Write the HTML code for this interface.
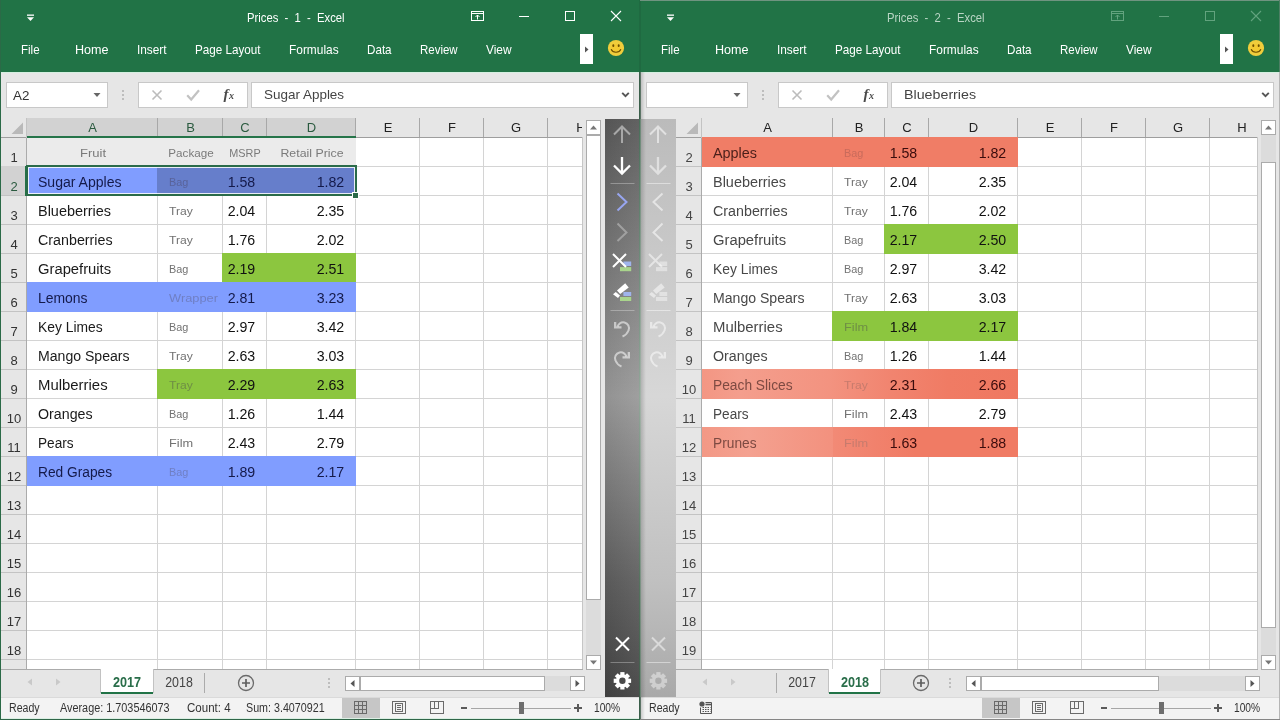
<!DOCTYPE html>
<html lang="en"><head><meta charset="utf-8"><title>Prices - Excel</title>
<style>
html,body{margin:0;padding:0;}
body{width:1280px;height:720px;overflow:hidden;background:#e6e6e6;font-family:"Liberation Sans",sans-serif;position:relative;}
.win{position:absolute;top:0;width:640px;height:720px;overflow:hidden;will-change:transform;}
.r{position:absolute;display:block;}
.t{position:absolute;white-space:pre;display:block;}
</style></head>
<body>
<div class="win" style="left:0px">
<div class="r" style="left:0px;top:0px;width:640px;height:72px;background:#217346;"></div>
<svg class="r" style="left:26px;top:13px;" width="10" height="10" viewBox="0 0 10 10"><rect x="1" y="1.5" width="7" height="1.3" fill="#fff"/><path d="M1 4.2h7L4.5 8z" fill="#fff"/></svg>
<span class="t" style="left:247px;transform-origin:0 0;top:11.21px;font-size:13px;line-height:13px;color:#fff;font-weight:normal;transform:scaleX(0.8660);">Prices  -  1  -  Excel</span>
<svg class="r" style="left:470px;top:10px;" width="16" height="12" viewBox="0 0 16 12"><rect x="1.5" y="1.5" width="12" height="9" fill="none" stroke="#fff" stroke-width="1"/><path d="M1.5 3.5h12" stroke="#fff" stroke-width="1"/><path d="M7.5 9.5v-4.5M5.5 7l2-2 2 2" fill="none" stroke="#fff" stroke-width="1"/></svg>
<div class="r" style="left:519px;top:16px;width:10px;height:1px;background:#fff;"></div>
<div class="r" style="left:565px;top:11px;width:10px;height:10px;background:transparent;box-sizing:border-box;border:1px solid #fff;"></div>
<svg class="r" style="left:610px;top:10px;" width="12" height="12" viewBox="0 0 12 12"><path d="M1 1l10 10M11 1L1 11" stroke="#fff" stroke-width="1.1" fill="none"/></svg>
<span class="t" style="left:21px;transform-origin:0 0;top:43.21px;font-size:13px;line-height:13px;color:#fff;font-weight:normal;transform:scaleX(0.8877);">File</span>
<span class="t" style="left:75px;transform-origin:0 0;top:43.21px;font-size:13px;line-height:13px;color:#fff;font-weight:normal;transform:scaleX(0.9686);">Home</span>
<span class="t" style="left:137px;transform-origin:0 0;top:43.21px;font-size:13px;line-height:13px;color:#fff;font-weight:normal;transform:scaleX(0.9103);">Insert</span>
<span class="t" style="left:195px;transform-origin:0 0;top:43.21px;font-size:13px;line-height:13px;color:#fff;font-weight:normal;transform:scaleX(0.8984);">Page Layout</span>
<span class="t" style="left:289px;transform-origin:0 0;top:43.21px;font-size:13px;line-height:13px;color:#fff;font-weight:normal;transform:scaleX(0.9153);">Formulas</span>
<span class="t" style="left:367px;transform-origin:0 0;top:43.21px;font-size:13px;line-height:13px;color:#fff;font-weight:normal;transform:scaleX(0.8956);">Data</span>
<span class="t" style="left:420px;transform-origin:0 0;top:43.21px;font-size:13px;line-height:13px;color:#fff;font-weight:normal;transform:scaleX(0.8821);">Review</span>
<span class="t" style="left:486px;transform-origin:0 0;top:43.21px;font-size:13px;line-height:13px;color:#fff;font-weight:normal;transform:scaleX(0.9158);">View</span>
<div class="r" style="left:580px;top:34px;width:13px;height:30px;background:#fff;"></div>
<svg class="r" style="left:580px;top:34px;" width="13" height="30" viewBox="0 0 13 30"><path d="M5 12.500l3.500 3-3.500 3z" fill="#555"/></svg>
<svg class="r" style="left:606px;top:38px;" width="20" height="20" viewBox="0 0 20 20"><circle cx="10" cy="10" r="8.100" fill="#f0cd3c"/><circle cx="10" cy="10.500" r="4.500" fill="#f5c62a" opacity=".6"/><ellipse cx="7.3" cy="7.700" rx="1" ry="1.400" fill="#6d5000"/><ellipse cx="12.7" cy="7.700" rx="1" ry="1.400" fill="#6d5000"/><path d="M5.3 11.500c1.300 3.600 8.100 3.600 9.400 0" fill="none" stroke="#6d5000" stroke-width="1.100" stroke-linecap="round"/></svg>
<div class="r" style="left:0px;top:72px;width:640px;height:46px;background:#e6e6e6;"></div>
<div class="r" style="left:0px;top:72px;width:640px;height:1px;background:#d5efe0;"></div>
<div class="r" style="left:6px;top:82px;width:102px;height:26px;background:#fff;box-sizing:border-box;border:1px solid #c8c8c8;"></div>
<svg class="r" style="left:92px;top:91px;" width="10" height="8" viewBox="0 0 10 8"><path d="M1.5 2h7L5 6z" fill="#666"/></svg>
<div class="r" style="left:122px;top:90px;width:2px;height:2px;background:#bdbdbd;"></div>
<div class="r" style="left:122px;top:94px;width:2px;height:2px;background:#bdbdbd;"></div>
<div class="r" style="left:122px;top:98px;width:2px;height:2px;background:#bdbdbd;"></div>
<div class="r" style="left:138px;top:82px;width:110px;height:26px;background:#fff;box-sizing:border-box;border:1px solid #c8c8c8;"></div>
<svg class="r" style="left:150px;top:88px;" width="14" height="14" viewBox="0 0 14 14"><path d="M2.5 2.5l9 9M11.5 2.5l-9 9" stroke="#bcbcbc" stroke-width="1.6" fill="none"/></svg>
<svg class="r" style="left:186px;top:88px;" width="14" height="14" viewBox="0 0 14 14"><path d="M1.2 7.2l4 4.3L13 2.2" stroke="#c2c2c2" stroke-width="2.2" fill="none"/></svg>
<span class="t" style="left:223.5px;transform-origin:0 0;top:86.55px;font-size:15px;line-height:15px;color:#4a4a4a;font-weight:bold;font-family:'Liberation Serif',serif;font-style:italic;">f</span>
<span class="t" style="left:229px;transform-origin:0 0;top:90.70px;font-size:10px;line-height:10px;color:#4a4a4a;font-weight:bold;font-family:'Liberation Serif',serif;font-style:italic;">x</span>
<div class="r" style="left:251px;top:82px;width:383px;height:26px;background:#fff;box-sizing:border-box;border:1px solid #c8c8c8;"></div>
<svg class="r" style="left:619px;top:90px;" width="12" height="10" viewBox="0 0 12 10"><path d="M3.2 2.800l3.300 3.300 3.300-3.300" stroke="#555" stroke-width="1.9" fill="none"/></svg>
<span class="t" style="left:13px;transform-origin:0 0;top:90.04px;font-size:12px;line-height:12px;color:#333;font-weight:normal;transform:scaleX(1.1166);">A2</span>
<span class="t" style="left:263.5px;transform-origin:0 0;top:89.46px;font-size:12.7px;line-height:12.7px;color:#444;font-weight:normal;transform:scaleX(1.0611);">Sugar Apples</span>
<div class="r" style="left:27px;top:138px;width:555px;height:531px;background:#fff;"></div>
<div class="r" style="left:1px;top:118px;width:582px;height:20px;background:#e6e6e6;"></div>
<div class="r" style="left:1px;top:137px;width:582px;height:1px;background:#9e9e9e;"></div>
<div class="r" style="left:27px;top:118px;width:329px;height:19px;background:#d2d2d2;"></div>
<svg class="r" style="left:1px;top:118px;" width="26" height="20" viewBox="0 0 26 20"><path d="M22 4.5v11.5h-11.5z" fill="#b9b9b9"/></svg>
<div class="r" style="left:157px;top:118px;width:1px;height:19px;background:#a8a8a8;"></div>
<div class="r" style="left:26px;top:118px;width:1px;height:20px;background:#c3c3c3;"></div>
<span class="t" style="left:92.5px;transform-origin:50% 0;top:121.21px;font-size:13px;line-height:13px;color:#2a5a3f;font-weight:normal;transform:translateX(-50%);">A</span>
<div class="r" style="left:222px;top:118px;width:1px;height:19px;background:#a8a8a8;"></div>
<div class="r" style="left:26px;top:118px;width:1px;height:20px;background:#c3c3c3;"></div>
<span class="t" style="left:190.5px;transform-origin:50% 0;top:121.21px;font-size:13px;line-height:13px;color:#2a5a3f;font-weight:normal;transform:translateX(-50%);">B</span>
<div class="r" style="left:266px;top:118px;width:1px;height:19px;background:#a8a8a8;"></div>
<div class="r" style="left:26px;top:118px;width:1px;height:20px;background:#c3c3c3;"></div>
<span class="t" style="left:245px;transform-origin:50% 0;top:121.21px;font-size:13px;line-height:13px;color:#2a5a3f;font-weight:normal;transform:translateX(-50%);">C</span>
<div class="r" style="left:355px;top:118px;width:1px;height:19px;background:#a8a8a8;"></div>
<div class="r" style="left:26px;top:118px;width:1px;height:20px;background:#c3c3c3;"></div>
<span class="t" style="left:311.5px;transform-origin:50% 0;top:121.21px;font-size:13px;line-height:13px;color:#2a5a3f;font-weight:normal;transform:translateX(-50%);">D</span>
<div class="r" style="left:419px;top:118px;width:1px;height:19px;background:#a8a8a8;"></div>
<div class="r" style="left:26px;top:118px;width:1px;height:20px;background:#c3c3c3;"></div>
<span class="t" style="left:388px;transform-origin:50% 0;top:121.21px;font-size:13px;line-height:13px;color:#222;font-weight:normal;transform:translateX(-50%);">E</span>
<div class="r" style="left:483px;top:118px;width:1px;height:19px;background:#a8a8a8;"></div>
<div class="r" style="left:26px;top:118px;width:1px;height:20px;background:#c3c3c3;"></div>
<span class="t" style="left:452px;transform-origin:50% 0;top:121.21px;font-size:13px;line-height:13px;color:#222;font-weight:normal;transform:translateX(-50%);">F</span>
<div class="r" style="left:547px;top:118px;width:1px;height:19px;background:#a8a8a8;"></div>
<div class="r" style="left:26px;top:118px;width:1px;height:20px;background:#c3c3c3;"></div>
<span class="t" style="left:516px;transform-origin:50% 0;top:121.21px;font-size:13px;line-height:13px;color:#222;font-weight:normal;transform:translateX(-50%);">G</span>
<div class="r" style="left:26px;top:118px;width:1px;height:20px;background:#c3c3c3;"></div>
<div class="r" style="left:548px;top:118px;width:34px;height:20px;overflow:hidden"><span class="t" style="left:33px;transform-origin:50% 0;top:3.21px;font-size:13px;line-height:13px;color:#222;font-weight:normal;transform:translateX(-50%);">H</span></div>
<div class="r" style="left:1px;top:138px;width:26px;height:531px;background:#e6e6e6;"></div>
<div class="r" style="left:26px;top:138px;width:1px;height:531px;background:#ababab;"></div>
<div class="r" style="left:27px;top:166px;width:555px;height:1px;background:#d4d4d4;"></div>
<div class="r" style="left:1px;top:166px;width:25px;height:1px;background:#c3c3c3;"></div>
<div class="r" style="left:27px;top:195px;width:555px;height:1px;background:#d4d4d4;"></div>
<div class="r" style="left:1px;top:195px;width:25px;height:1px;background:#c3c3c3;"></div>
<div class="r" style="left:27px;top:224px;width:555px;height:1px;background:#d4d4d4;"></div>
<div class="r" style="left:1px;top:224px;width:25px;height:1px;background:#c3c3c3;"></div>
<div class="r" style="left:27px;top:253px;width:555px;height:1px;background:#d4d4d4;"></div>
<div class="r" style="left:1px;top:253px;width:25px;height:1px;background:#c3c3c3;"></div>
<div class="r" style="left:27px;top:282px;width:555px;height:1px;background:#d4d4d4;"></div>
<div class="r" style="left:1px;top:282px;width:25px;height:1px;background:#c3c3c3;"></div>
<div class="r" style="left:27px;top:311px;width:555px;height:1px;background:#d4d4d4;"></div>
<div class="r" style="left:1px;top:311px;width:25px;height:1px;background:#c3c3c3;"></div>
<div class="r" style="left:27px;top:340px;width:555px;height:1px;background:#d4d4d4;"></div>
<div class="r" style="left:1px;top:340px;width:25px;height:1px;background:#c3c3c3;"></div>
<div class="r" style="left:27px;top:369px;width:555px;height:1px;background:#d4d4d4;"></div>
<div class="r" style="left:1px;top:369px;width:25px;height:1px;background:#c3c3c3;"></div>
<div class="r" style="left:27px;top:398px;width:555px;height:1px;background:#d4d4d4;"></div>
<div class="r" style="left:1px;top:398px;width:25px;height:1px;background:#c3c3c3;"></div>
<div class="r" style="left:27px;top:427px;width:555px;height:1px;background:#d4d4d4;"></div>
<div class="r" style="left:1px;top:427px;width:25px;height:1px;background:#c3c3c3;"></div>
<div class="r" style="left:27px;top:456px;width:555px;height:1px;background:#d4d4d4;"></div>
<div class="r" style="left:1px;top:456px;width:25px;height:1px;background:#c3c3c3;"></div>
<div class="r" style="left:27px;top:485px;width:555px;height:1px;background:#d4d4d4;"></div>
<div class="r" style="left:1px;top:485px;width:25px;height:1px;background:#c3c3c3;"></div>
<div class="r" style="left:27px;top:514px;width:555px;height:1px;background:#d4d4d4;"></div>
<div class="r" style="left:1px;top:514px;width:25px;height:1px;background:#c3c3c3;"></div>
<div class="r" style="left:27px;top:543px;width:555px;height:1px;background:#d4d4d4;"></div>
<div class="r" style="left:1px;top:543px;width:25px;height:1px;background:#c3c3c3;"></div>
<div class="r" style="left:27px;top:572px;width:555px;height:1px;background:#d4d4d4;"></div>
<div class="r" style="left:1px;top:572px;width:25px;height:1px;background:#c3c3c3;"></div>
<div class="r" style="left:27px;top:601px;width:555px;height:1px;background:#d4d4d4;"></div>
<div class="r" style="left:1px;top:601px;width:25px;height:1px;background:#c3c3c3;"></div>
<div class="r" style="left:27px;top:630px;width:555px;height:1px;background:#d4d4d4;"></div>
<div class="r" style="left:1px;top:630px;width:25px;height:1px;background:#c3c3c3;"></div>
<div class="r" style="left:27px;top:659px;width:555px;height:1px;background:#d4d4d4;"></div>
<div class="r" style="left:1px;top:659px;width:25px;height:1px;background:#c3c3c3;"></div>
<div class="r" style="left:157px;top:138px;width:1px;height:531px;background:#d4d4d4;"></div>
<div class="r" style="left:222px;top:138px;width:1px;height:531px;background:#d4d4d4;"></div>
<div class="r" style="left:266px;top:138px;width:1px;height:531px;background:#d4d4d4;"></div>
<div class="r" style="left:355px;top:138px;width:1px;height:531px;background:#d4d4d4;"></div>
<div class="r" style="left:419px;top:138px;width:1px;height:531px;background:#d4d4d4;"></div>
<div class="r" style="left:483px;top:138px;width:1px;height:531px;background:#d4d4d4;"></div>
<div class="r" style="left:547px;top:138px;width:1px;height:531px;background:#d4d4d4;"></div>
<div class="r" style="left:582px;top:137px;width:1px;height:532px;background:#c6c6c6;"></div>
<div class="r" style="left:1px;top:669px;width:582px;height:1px;background:#ababab;"></div>
<div class="r" style="left:27px;top:137px;width:329px;height:30px;background:#ebebeb;"></div>
<div class="r" style="left:27px;top:166px;width:131px;height:30px;background:#809dff;"></div>
<div class="r" style="left:157px;top:166px;width:199px;height:30px;background:#667ecb;"></div>
<div class="r" style="left:222px;top:253px;width:134px;height:30px;background:#8cc63f;"></div>
<div class="r" style="left:27px;top:282px;width:329px;height:30px;background:#809dff;"></div>
<div class="r" style="left:157px;top:369px;width:199px;height:30px;background:#8cc63f;"></div>
<div class="r" style="left:27px;top:456px;width:329px;height:30px;background:#809dff;"></div>
<div class="r" style="left:27px;top:136px;width:329px;height:2px;background:#257449;"></div>
<span class="t" style="left:14px;transform-origin:50% 0;top:151.21px;font-size:13px;line-height:13px;color:#333;font-weight:normal;transform:translateX(-50%);">1</span>
<div class="r" style="left:1px;top:166px;width:25px;height:29px;background:#d2d2d2;"></div>
<div class="r" style="left:25px;top:166px;width:2px;height:30px;background:#217346;"></div>
<span class="t" style="left:14px;transform-origin:50% 0;top:180.21px;font-size:13px;line-height:13px;color:#2a5a3f;font-weight:normal;transform:translateX(-50%);">2</span>
<span class="t" style="left:14px;transform-origin:50% 0;top:209.21px;font-size:13px;line-height:13px;color:#333;font-weight:normal;transform:translateX(-50%);">3</span>
<span class="t" style="left:14px;transform-origin:50% 0;top:238.21px;font-size:13px;line-height:13px;color:#333;font-weight:normal;transform:translateX(-50%);">4</span>
<span class="t" style="left:14px;transform-origin:50% 0;top:267.21px;font-size:13px;line-height:13px;color:#333;font-weight:normal;transform:translateX(-50%);">5</span>
<span class="t" style="left:14px;transform-origin:50% 0;top:296.21px;font-size:13px;line-height:13px;color:#333;font-weight:normal;transform:translateX(-50%);">6</span>
<span class="t" style="left:14px;transform-origin:50% 0;top:325.21px;font-size:13px;line-height:13px;color:#333;font-weight:normal;transform:translateX(-50%);">7</span>
<span class="t" style="left:14px;transform-origin:50% 0;top:354.21px;font-size:13px;line-height:13px;color:#333;font-weight:normal;transform:translateX(-50%);">8</span>
<span class="t" style="left:14px;transform-origin:50% 0;top:383.21px;font-size:13px;line-height:13px;color:#333;font-weight:normal;transform:translateX(-50%);">9</span>
<span class="t" style="left:14px;transform-origin:50% 0;top:412.21px;font-size:13px;line-height:13px;color:#333;font-weight:normal;transform:translateX(-50%);">10</span>
<span class="t" style="left:14px;transform-origin:50% 0;top:441.21px;font-size:13px;line-height:13px;color:#333;font-weight:normal;transform:translateX(-50%);">11</span>
<span class="t" style="left:14px;transform-origin:50% 0;top:470.21px;font-size:13px;line-height:13px;color:#333;font-weight:normal;transform:translateX(-50%);">12</span>
<span class="t" style="left:14px;transform-origin:50% 0;top:499.21px;font-size:13px;line-height:13px;color:#333;font-weight:normal;transform:translateX(-50%);">13</span>
<span class="t" style="left:14px;transform-origin:50% 0;top:528.21px;font-size:13px;line-height:13px;color:#333;font-weight:normal;transform:translateX(-50%);">14</span>
<span class="t" style="left:14px;transform-origin:50% 0;top:557.21px;font-size:13px;line-height:13px;color:#333;font-weight:normal;transform:translateX(-50%);">15</span>
<span class="t" style="left:14px;transform-origin:50% 0;top:586.21px;font-size:13px;line-height:13px;color:#333;font-weight:normal;transform:translateX(-50%);">16</span>
<span class="t" style="left:14px;transform-origin:50% 0;top:615.21px;font-size:13px;line-height:13px;color:#333;font-weight:normal;transform:translateX(-50%);">17</span>
<span class="t" style="left:14px;transform-origin:50% 0;top:644.21px;font-size:13px;line-height:13px;color:#333;font-weight:normal;transform:translateX(-50%);">18</span>
<span class="t" style="left:92.5px;transform-origin:50% 0;top:148.46px;font-size:11.5px;line-height:11.5px;color:#7a7a7a;font-weight:normal;transform:translateX(-50%) scaleX(1.1348);">Fruit</span>
<span class="t" style="left:190.5px;transform-origin:50% 0;top:148.46px;font-size:11.5px;line-height:11.5px;color:#7a7a7a;font-weight:normal;transform:translateX(-50%) scaleX(1.0131);">Package</span>
<span class="t" style="left:245px;transform-origin:50% 0;top:148.46px;font-size:11.5px;line-height:11.5px;color:#7a7a7a;font-weight:normal;transform:translateX(-50%) scaleX(0.9433);">MSRP</span>
<span class="t" style="left:311.5px;transform-origin:50% 0;top:148.46px;font-size:11.5px;line-height:11.5px;color:#7a7a7a;font-weight:normal;transform:translateX(-50%) scaleX(1.0729);">Retail Price</span>
<span class="t" style="left:38px;transform-origin:0 0;top:175.38px;font-size:14px;line-height:14px;color:#141a4a;font-weight:normal;transform:scaleX(1.0036);">Sugar Apples</span>
<span class="t" style="left:168.8px;transform-origin:0 0;top:177.16px;font-size:11.5px;line-height:11.5px;color:#59639a;font-weight:normal;transform:scaleX(0.9453);">Bag</span>
<span class="t" style="right:385px;transform-origin:100% 0;top:175.38px;font-size:14px;line-height:14px;color:#141a4a;font-weight:normal;transform:scaleX(1.0128);">1.58</span>
<span class="t" style="right:296px;transform-origin:100% 0;top:175.38px;font-size:14px;line-height:14px;color:#141a4a;font-weight:normal;transform:scaleX(1.0128);">1.82</span>
<span class="t" style="left:38px;transform-origin:0 0;top:204.38px;font-size:14px;line-height:14px;color:#1a1a1a;font-weight:normal;transform:scaleX(1.0321);">Blueberries</span>
<span class="t" style="left:168.8px;transform-origin:0 0;top:206.16px;font-size:11.5px;line-height:11.5px;color:#727272;font-weight:normal;transform:scaleX(1.0563);">Tray</span>
<span class="t" style="right:385px;transform-origin:100% 0;top:204.38px;font-size:14px;line-height:14px;color:#111;font-weight:normal;transform:scaleX(1.0128);">2.04</span>
<span class="t" style="right:296px;transform-origin:100% 0;top:204.38px;font-size:14px;line-height:14px;color:#111;font-weight:normal;transform:scaleX(1.0128);">2.35</span>
<span class="t" style="left:38px;transform-origin:0 0;top:233.38px;font-size:14px;line-height:14px;color:#1a1a1a;font-weight:normal;transform:scaleX(1.0200);">Cranberries</span>
<span class="t" style="left:168.8px;transform-origin:0 0;top:235.16px;font-size:11.5px;line-height:11.5px;color:#727272;font-weight:normal;transform:scaleX(1.0563);">Tray</span>
<span class="t" style="right:385px;transform-origin:100% 0;top:233.38px;font-size:14px;line-height:14px;color:#111;font-weight:normal;transform:scaleX(1.0128);">1.76</span>
<span class="t" style="right:296px;transform-origin:100% 0;top:233.38px;font-size:14px;line-height:14px;color:#111;font-weight:normal;transform:scaleX(1.0128);">2.02</span>
<span class="t" style="left:38px;transform-origin:0 0;top:262.38px;font-size:14px;line-height:14px;color:#1a1a1a;font-weight:normal;transform:scaleX(1.0556);">Grapefruits</span>
<span class="t" style="left:168.8px;transform-origin:0 0;top:264.15px;font-size:11.5px;line-height:11.5px;color:#727272;font-weight:normal;transform:scaleX(0.9453);">Bag</span>
<span class="t" style="right:385px;transform-origin:100% 0;top:262.38px;font-size:14px;line-height:14px;color:#111;font-weight:normal;transform:scaleX(1.0128);">2.19</span>
<span class="t" style="right:296px;transform-origin:100% 0;top:262.38px;font-size:14px;line-height:14px;color:#111;font-weight:normal;transform:scaleX(1.0128);">2.51</span>
<span class="t" style="left:38px;transform-origin:0 0;top:291.38px;font-size:14px;line-height:14px;color:#141a4a;font-weight:normal;transform:scaleX(0.9957);">Lemons</span>
<span class="t" style="left:168.8px;transform-origin:0 0;top:293.15px;font-size:11.5px;line-height:11.5px;color:#6f7fc4;font-weight:normal;transform:scaleX(1.1164);">Wrapper</span>
<span class="t" style="right:385px;transform-origin:100% 0;top:291.38px;font-size:14px;line-height:14px;color:#141a4a;font-weight:normal;transform:scaleX(1.0128);">2.81</span>
<span class="t" style="right:296px;transform-origin:100% 0;top:291.38px;font-size:14px;line-height:14px;color:#141a4a;font-weight:normal;transform:scaleX(1.0128);">3.23</span>
<span class="t" style="left:38px;transform-origin:0 0;top:320.38px;font-size:14px;line-height:14px;color:#1a1a1a;font-weight:normal;transform:scaleX(0.9884);">Key Limes</span>
<span class="t" style="left:168.8px;transform-origin:0 0;top:322.15px;font-size:11.5px;line-height:11.5px;color:#727272;font-weight:normal;transform:scaleX(0.9453);">Bag</span>
<span class="t" style="right:385px;transform-origin:100% 0;top:320.38px;font-size:14px;line-height:14px;color:#111;font-weight:normal;transform:scaleX(1.0128);">2.97</span>
<span class="t" style="right:296px;transform-origin:100% 0;top:320.38px;font-size:14px;line-height:14px;color:#111;font-weight:normal;transform:scaleX(1.0128);">3.42</span>
<span class="t" style="left:38px;transform-origin:0 0;top:349.38px;font-size:14px;line-height:14px;color:#1a1a1a;font-weight:normal;transform:scaleX(1.0059);">Mango Spears</span>
<span class="t" style="left:168.8px;transform-origin:0 0;top:351.15px;font-size:11.5px;line-height:11.5px;color:#727272;font-weight:normal;transform:scaleX(1.0563);">Tray</span>
<span class="t" style="right:385px;transform-origin:100% 0;top:349.38px;font-size:14px;line-height:14px;color:#111;font-weight:normal;transform:scaleX(1.0128);">2.63</span>
<span class="t" style="right:296px;transform-origin:100% 0;top:349.38px;font-size:14px;line-height:14px;color:#111;font-weight:normal;transform:scaleX(1.0128);">3.03</span>
<span class="t" style="left:38px;transform-origin:0 0;top:378.38px;font-size:14px;line-height:14px;color:#1a1a1a;font-weight:normal;transform:scaleX(1.0649);">Mulberries</span>
<span class="t" style="left:168.8px;transform-origin:0 0;top:380.15px;font-size:11.5px;line-height:11.5px;color:#6f8f45;font-weight:normal;transform:scaleX(1.0563);">Tray</span>
<span class="t" style="right:385px;transform-origin:100% 0;top:378.38px;font-size:14px;line-height:14px;color:#111;font-weight:normal;transform:scaleX(1.0128);">2.29</span>
<span class="t" style="right:296px;transform-origin:100% 0;top:378.38px;font-size:14px;line-height:14px;color:#111;font-weight:normal;transform:scaleX(1.0128);">2.63</span>
<span class="t" style="left:38px;transform-origin:0 0;top:407.38px;font-size:14px;line-height:14px;color:#1a1a1a;font-weight:normal;transform:scaleX(1.0167);">Oranges</span>
<span class="t" style="left:168.8px;transform-origin:0 0;top:409.15px;font-size:11.5px;line-height:11.5px;color:#727272;font-weight:normal;transform:scaleX(0.9453);">Bag</span>
<span class="t" style="right:385px;transform-origin:100% 0;top:407.38px;font-size:14px;line-height:14px;color:#111;font-weight:normal;transform:scaleX(1.0128);">1.26</span>
<span class="t" style="right:296px;transform-origin:100% 0;top:407.38px;font-size:14px;line-height:14px;color:#111;font-weight:normal;transform:scaleX(1.0128);">1.44</span>
<span class="t" style="left:38px;transform-origin:0 0;top:436.38px;font-size:14px;line-height:14px;color:#1a1a1a;font-weight:normal;transform:scaleX(0.9733);">Pears</span>
<span class="t" style="left:168.8px;transform-origin:0 0;top:438.15px;font-size:11.5px;line-height:11.5px;color:#727272;font-weight:normal;transform:scaleX(1.1096);">Film</span>
<span class="t" style="right:385px;transform-origin:100% 0;top:436.38px;font-size:14px;line-height:14px;color:#111;font-weight:normal;transform:scaleX(1.0128);">2.43</span>
<span class="t" style="right:296px;transform-origin:100% 0;top:436.38px;font-size:14px;line-height:14px;color:#111;font-weight:normal;transform:scaleX(1.0128);">2.79</span>
<span class="t" style="left:38px;transform-origin:0 0;top:465.38px;font-size:14px;line-height:14px;color:#141a4a;font-weight:normal;transform:scaleX(0.9817);">Red Grapes</span>
<span class="t" style="left:168.8px;transform-origin:0 0;top:467.15px;font-size:11.5px;line-height:11.5px;color:#6f7fc4;font-weight:normal;transform:scaleX(0.9453);">Bag</span>
<span class="t" style="right:385px;transform-origin:100% 0;top:465.38px;font-size:14px;line-height:14px;color:#141a4a;font-weight:normal;transform:scaleX(1.0128);">1.89</span>
<span class="t" style="right:296px;transform-origin:100% 0;top:465.38px;font-size:14px;line-height:14px;color:#141a4a;font-weight:normal;transform:scaleX(1.0128);">2.17</span>
<div class="r" style="left:26px;top:165px;width:331px;height:31px;background:transparent;box-sizing:border-box;border:2px solid #2a6b49;"></div>
<div class="r" style="left:28px;top:167px;width:327px;height:27px;background:transparent;box-sizing:border-box;border:1px solid rgba(255,255,255,.85);"></div>
<div class="r" style="left:352px;top:192px;width:7px;height:7px;background:#2a6b49;box-sizing:border-box;border:1px solid #fff;"></div>
<div class="r" style="left:583px;top:118px;width:22px;height:552px;background:#e6e6e6;"></div>
<div class="r" style="left:586px;top:135px;width:15px;height:520px;background:#dcdcdc;"></div>
<div class="r" style="left:586px;top:120px;width:15px;height:15px;background:#fff;box-sizing:border-box;border:1px solid #ababab;"></div>
<svg class="r" style="left:586px;top:120px;" width="15" height="15" viewBox="0 0 15 15"><path d="M4 9.5h7L7.5 5.500z" fill="#777"/></svg>
<div class="r" style="left:586px;top:135px;width:15px;height:465px;background:#fff;box-sizing:border-box;border:1px solid #ababab;"></div>
<div class="r" style="left:586px;top:655px;width:15px;height:15px;background:#fff;box-sizing:border-box;border:1px solid #ababab;"></div>
<svg class="r" style="left:586px;top:655px;" width="15" height="15" viewBox="0 0 15 15"><path d="M4 5.5h7L7.5 9.5z" fill="#777"/></svg>
<div class="r" style="left:1px;top:670px;width:639px;height:27px;background:#e6e6e6;"></div>
<svg class="r" style="left:26px;top:677px;" width="8" height="10" viewBox="0 0 8 10"><path d="M6 1.5v7L1.5 5z" fill="#c9c9c9"/></svg>
<svg class="r" style="left:54px;top:677px;" width="8" height="10" viewBox="0 0 8 10"><path d="M2 1.5v7L6.5 5z" fill="#c9c9c9"/></svg>
<div class="r" style="left:204px;top:673px;width:1px;height:20px;background:#ababab;"></div>
<div class="r" style="left:101px;top:670px;width:52px;height:24px;background:#fff;"></div>
<div class="r" style="left:101px;top:692px;width:52px;height:2px;background:#217346;"></div>
<div class="r" style="left:101px;top:669px;width:52px;height:1px;background:#fff;"></div>
<div class="r" style="left:100px;top:669px;width:1px;height:24px;background:#c2c2c2;"></div>
<div class="r" style="left:153px;top:669px;width:1px;height:24px;background:#c2c2c2;"></div>
<span class="t" style="left:127px;transform-origin:50% 0;top:675.38px;font-size:14px;line-height:14px;color:#2a6e4a;font-weight:bold;transform:translateX(-50%) scaleX(0.9019);">2017</span>
<span class="t" style="left:179px;transform-origin:50% 0;top:675.38px;font-size:14px;line-height:14px;color:#444;font-weight:normal;transform:translateX(-50%) scaleX(0.8859);">2018</span>
<svg class="r" style="left:236px;top:673px;" width="20" height="20" viewBox="0 0 20 20"><circle cx="10" cy="10" r="7.5" fill="none" stroke="#6a6a6a" stroke-width="1.3"/><path d="M6 10h8M10 6v8" stroke="#5f5f5f" stroke-width="1.7"/></svg>
<div class="r" style="left:328px;top:677.5px;width:2px;height:2px;background:#bdbdbd;"></div>
<div class="r" style="left:328px;top:681.8px;width:2px;height:2px;background:#bdbdbd;"></div>
<div class="r" style="left:328px;top:686px;width:2px;height:2px;background:#bdbdbd;"></div>
<div class="r" style="left:345px;top:676px;width:240px;height:15px;background:#dcdcdc;"></div>
<div class="r" style="left:345px;top:676px;width:15px;height:15px;background:#fff;box-sizing:border-box;border:1px solid #ababab;"></div>
<svg class="r" style="left:345px;top:676px;" width="15" height="15" viewBox="0 0 15 15"><path d="M9.5 4v7L5.5 7.5z" fill="#555"/></svg>
<div class="r" style="left:360px;top:676px;width:185px;height:15px;background:#fff;box-sizing:border-box;border:1px solid #ababab;"></div>
<div class="r" style="left:570px;top:676px;width:15px;height:15px;background:#fff;box-sizing:border-box;border:1px solid #ababab;"></div>
<svg class="r" style="left:570px;top:676px;" width="15" height="15" viewBox="0 0 15 15"><path d="M5.5 4v7l4-3.5z" fill="#555"/></svg>
<div class="r" style="left:0px;top:697px;width:640px;height:23px;background:#f3f3f3;"></div>
<span class="t" style="left:8.5px;transform-origin:0 0;top:702.04px;font-size:12px;line-height:12px;color:#333;font-weight:normal;transform:scaleX(0.8822);">Ready</span>
<span class="t" style="left:60px;transform-origin:0 0;top:702.04px;font-size:12px;line-height:12px;color:#333;font-weight:normal;transform:scaleX(0.9042);">Average: 1.703546073</span>
<span class="t" style="left:186.5px;transform-origin:0 0;top:702.04px;font-size:12px;line-height:12px;color:#333;font-weight:normal;transform:scaleX(0.9609);">Count: 4</span>
<span class="t" style="left:246px;transform-origin:0 0;top:702.04px;font-size:12px;line-height:12px;color:#333;font-weight:normal;transform:scaleX(0.8924);">Sum: 3.4070921</span>
<div class="r" style="left:0px;top:697px;width:640px;height:1px;background:#dadada;"></div>
<div class="r" style="left:342px;top:698px;width:38px;height:20px;background:#c6c6c6;"></div>
<svg class="r" style="left:354px;top:701px;" width="13" height="13" viewBox="0 0 13 13"><path shape-rendering="crispEdges" d="M0.5 0.5h12v12h-12zM0.5 4.500h12M0.5 8.500h12M4.5 0.500v12M8.5 0.500v12" fill="none" stroke="#6a6a6a" stroke-width="1"/></svg>
<svg class="r" style="left:392px;top:701px;" width="14" height="13" viewBox="0 0 14 13"><path shape-rendering="crispEdges" d="M0.5 0.5h13v12h-13zM3.5 2.500h7v8h-7z" fill="none" stroke="#6a6a6a" stroke-width="1"/><path shape-rendering="crispEdges" d="M5 4.500h4M5 6.500h4M5 8.500h4" fill="none" stroke="#6a6a6a" stroke-width="1"/></svg>
<svg class="r" style="left:430px;top:701px;" width="14" height="13" viewBox="0 0 14 13"><path shape-rendering="crispEdges" d="M0.5 0.5h13v12h-13zM0.5 7.500h8v-7M4.5 0.500v7" fill="none" stroke="#6a6a6a" stroke-width="1"/></svg>
<div class="r" style="left:461px;top:707px;width:6px;height:2px;background:#5a5a5a;"></div>
<div class="r" style="left:471px;top:708px;width:100px;height:1px;background:#a6a6a6;"></div>
<div class="r" style="left:519px;top:702px;width:5px;height:12px;background:#6e6e6e;"></div>
<div class="r" style="left:574px;top:707px;width:8px;height:2px;background:#5a5a5a;"></div>
<div class="r" style="left:577px;top:704px;width:2px;height:8px;background:#5a5a5a;"></div>
<span class="t" style="left:593.5px;transform-origin:0 0;top:702.04px;font-size:12px;line-height:12px;color:#333;font-weight:normal;transform:scaleX(0.8501);">100%</span>
<div class="r" style="left:605px;top:119px;width:34px;height:578px;background:#777;background:linear-gradient(180deg,#595959 0,#9a9a9a 48%,#5e5e5e 80%,#434343 100%);"></div>
<div class="r" style="left:605px;top:119px;width:34px;height:578px;background:transparent;background:linear-gradient(90deg,rgba(0,0,0,.05),rgba(255,255,255,.05));"></div>
<svg class="r" style="left:605px;top:119px;" width="34" height="578" viewBox="0 0 34 578"><path d="M17 24V7.5M9 15.5l8-8 8 8" fill="none" stroke="#a8a8a8" stroke-width="2"/><path d="M17 38v16.5M9 46.5l8 8 8-8" fill="none" stroke="#fff" stroke-width="2.3"/><path d="M5.5 64h24v1h-24z" fill="rgba(255,255,255,.30)"/><path d="M12.5 74.5l9 8.5-9 8.5" fill="none" stroke="#98a6f0" stroke-width="2"/><path d="M12.5 104.5l9 9-9 8.5" fill="none" stroke="#a0a0a0" stroke-width="2"/><path d="M18.4 142.5h7.8v4.4h-7.8z" fill="#a0b4ec"/><path d="M15 148.100h11.2v4.100h-11.2z" fill="#a9d48c"/><path d="M8 135l13 13M21 135l-13 13" fill="none" stroke="#fff" stroke-width="2"/><path d="M18.4 173h7.8v4h-7.8z" fill="#a0b4ec"/><path d="M15 178h11.2v4h-11.2z" fill="#a9d48c"/><path d="M20.2 164.200l3.500 4.400-8.500 6.400-3.200-3.500z" fill="#fff"/><path d="M10.8 173l4.200 3.500-2 2.500-5-3.800z" fill="#fff"/><path d="M5.5 191h24v1h-24z" fill="rgba(255,255,255,.30)"/><path d="M9 203h2.300v4.200h5.200v2.300h-7.500z" fill="rgba(255,255,255,.55)"/><path d="M12.5 207.500C14 204.500 17 203 19.500 203.500C23 204.500 25 208 23.500 211.500C22.5 214 20 216.500 17.500 217.500" fill="none" stroke="rgba(255,255,255,.55)" stroke-width="2"/><path d="M25 233h-2.300v4.200h-5.200v2.300h7.500z" fill="rgba(255,255,255,.55)"/><path d="M21.5 237.500C20 234.500 17 233 14.500 233.500C11 234.500 9 238 10.500 241.500C11.5 244 14 246.500 16.500 247.500" fill="none" stroke="rgba(255,255,255,.55)" stroke-width="2"/><path d="M11 518.500l13 13M24 518.500l-13 13" fill="none" stroke="#fff" stroke-width="2"/><path d="M5.5 543h24v1h-24z" fill="rgba(255,255,255,.30)"/><g transform="translate(17.400 561.800)" opacity="1"><g fill="#fff"><rect x="-2.100" y="-8.700" width="4.200" height="4.500" transform="rotate(0)"/><rect x="-2.100" y="-8.700" width="4.200" height="4.500" transform="rotate(45)"/><rect x="-2.100" y="-8.700" width="4.200" height="4.500" transform="rotate(90)"/><rect x="-2.100" y="-8.700" width="4.200" height="4.500" transform="rotate(135)"/><rect x="-2.100" y="-8.700" width="4.200" height="4.500" transform="rotate(180)"/><rect x="-2.100" y="-8.700" width="4.200" height="4.500" transform="rotate(225)"/><rect x="-2.100" y="-8.700" width="4.200" height="4.500" transform="rotate(270)"/><rect x="-2.100" y="-8.700" width="4.200" height="4.500" transform="rotate(315)"/></g><circle r="4.900" fill="none" stroke="#fff" stroke-width="3.400"/></g></svg>
<div class="r" style="left:0px;top:718px;width:640px;height:1px;background:#dcefe4;"></div>
<div class="r" style="left:0px;top:0px;width:1px;height:720px;background:#2b6a47;"></div>
<div class="r" style="left:639px;top:0px;width:1px;height:72px;background:#1f6a41;"></div>
<div class="r" style="left:639px;top:72px;width:1px;height:648px;background:#3a5f4a;"></div>
<div class="r" style="left:639px;top:119px;width:1px;height:578px;background:#3a5f4a;background:linear-gradient(180deg,#4a6f5a 0,#93a79a 48%,#56735f 80%,#3f5c4a 100%);"></div>
<div class="r" style="left:0px;top:719px;width:640px;height:1px;background:#2f6648;"></div>
</div>
<div class="win" style="left:640px">
<div class="r" style="left:0px;top:0px;width:640px;height:72px;background:#217346;"></div>
<svg class="r" style="left:26px;top:13px;" width="10" height="10" viewBox="0 0 10 10"><rect x="1" y="1.5" width="7" height="1.3" fill="#fff"/><path d="M1 4.2h7L4.5 8z" fill="#fff"/></svg>
<span class="t" style="left:247px;transform-origin:0 0;top:11.21px;font-size:13px;line-height:13px;color:#b9d5c4;font-weight:normal;transform:scaleX(0.8660);">Prices  -  2  -  Excel</span>
<svg class="r" style="left:470px;top:10px;" width="16" height="12" viewBox="0 0 16 12"><rect x="1.5" y="1.5" width="12" height="9" fill="none" stroke="#62a37e" stroke-width="1"/><path d="M1.5 3.5h12" stroke="#62a37e" stroke-width="1"/><path d="M7.5 9.5v-4.5M5.5 7l2-2 2 2" fill="none" stroke="#62a37e" stroke-width="1"/></svg>
<div class="r" style="left:519px;top:16px;width:10px;height:1px;background:#62a37e;"></div>
<div class="r" style="left:565px;top:11px;width:10px;height:10px;background:transparent;box-sizing:border-box;border:1px solid #62a37e;"></div>
<svg class="r" style="left:610px;top:10px;" width="12" height="12" viewBox="0 0 12 12"><path d="M1 1l10 10M11 1L1 11" stroke="#62a37e" stroke-width="1.1" fill="none"/></svg>
<span class="t" style="left:21px;transform-origin:0 0;top:43.21px;font-size:13px;line-height:13px;color:#fff;font-weight:normal;transform:scaleX(0.8877);">File</span>
<span class="t" style="left:75px;transform-origin:0 0;top:43.21px;font-size:13px;line-height:13px;color:#fff;font-weight:normal;transform:scaleX(0.9686);">Home</span>
<span class="t" style="left:137px;transform-origin:0 0;top:43.21px;font-size:13px;line-height:13px;color:#fff;font-weight:normal;transform:scaleX(0.9103);">Insert</span>
<span class="t" style="left:195px;transform-origin:0 0;top:43.21px;font-size:13px;line-height:13px;color:#fff;font-weight:normal;transform:scaleX(0.8984);">Page Layout</span>
<span class="t" style="left:289px;transform-origin:0 0;top:43.21px;font-size:13px;line-height:13px;color:#fff;font-weight:normal;transform:scaleX(0.9153);">Formulas</span>
<span class="t" style="left:367px;transform-origin:0 0;top:43.21px;font-size:13px;line-height:13px;color:#fff;font-weight:normal;transform:scaleX(0.8956);">Data</span>
<span class="t" style="left:420px;transform-origin:0 0;top:43.21px;font-size:13px;line-height:13px;color:#fff;font-weight:normal;transform:scaleX(0.8821);">Review</span>
<span class="t" style="left:486px;transform-origin:0 0;top:43.21px;font-size:13px;line-height:13px;color:#fff;font-weight:normal;transform:scaleX(0.9158);">View</span>
<div class="r" style="left:580px;top:34px;width:13px;height:30px;background:#fff;"></div>
<svg class="r" style="left:580px;top:34px;" width="13" height="30" viewBox="0 0 13 30"><path d="M5 12.500l3.500 3-3.500 3z" fill="#555"/></svg>
<svg class="r" style="left:606px;top:38px;" width="20" height="20" viewBox="0 0 20 20"><circle cx="10" cy="10" r="8.100" fill="#f0cd3c"/><circle cx="10" cy="10.500" r="4.500" fill="#f5c62a" opacity=".6"/><ellipse cx="7.3" cy="7.700" rx="1" ry="1.400" fill="#6d5000"/><ellipse cx="12.7" cy="7.700" rx="1" ry="1.400" fill="#6d5000"/><path d="M5.3 11.500c1.300 3.600 8.100 3.600 9.400 0" fill="none" stroke="#6d5000" stroke-width="1.100" stroke-linecap="round"/></svg>
<div class="r" style="left:0px;top:72px;width:640px;height:46px;background:#e6e6e6;"></div>
<div class="r" style="left:0px;top:72px;width:640px;height:1px;background:#d5efe0;"></div>
<div class="r" style="left:6px;top:82px;width:102px;height:26px;background:#fff;box-sizing:border-box;border:1px solid #c8c8c8;"></div>
<svg class="r" style="left:92px;top:91px;" width="10" height="8" viewBox="0 0 10 8"><path d="M1.5 2h7L5 6z" fill="#666"/></svg>
<div class="r" style="left:122px;top:90px;width:2px;height:2px;background:#bdbdbd;"></div>
<div class="r" style="left:122px;top:94px;width:2px;height:2px;background:#bdbdbd;"></div>
<div class="r" style="left:122px;top:98px;width:2px;height:2px;background:#bdbdbd;"></div>
<div class="r" style="left:138px;top:82px;width:110px;height:26px;background:#fff;box-sizing:border-box;border:1px solid #c8c8c8;"></div>
<svg class="r" style="left:150px;top:88px;" width="14" height="14" viewBox="0 0 14 14"><path d="M2.5 2.5l9 9M11.5 2.5l-9 9" stroke="#bcbcbc" stroke-width="1.6" fill="none"/></svg>
<svg class="r" style="left:186px;top:88px;" width="14" height="14" viewBox="0 0 14 14"><path d="M1.2 7.2l4 4.3L13 2.2" stroke="#c2c2c2" stroke-width="2.2" fill="none"/></svg>
<span class="t" style="left:223.5px;transform-origin:0 0;top:86.55px;font-size:15px;line-height:15px;color:#4a4a4a;font-weight:bold;font-family:'Liberation Serif',serif;font-style:italic;">f</span>
<span class="t" style="left:229px;transform-origin:0 0;top:90.70px;font-size:10px;line-height:10px;color:#4a4a4a;font-weight:bold;font-family:'Liberation Serif',serif;font-style:italic;">x</span>
<div class="r" style="left:251px;top:82px;width:383px;height:26px;background:#fff;box-sizing:border-box;border:1px solid #c8c8c8;"></div>
<svg class="r" style="left:619px;top:90px;" width="12" height="10" viewBox="0 0 12 10"><path d="M3.2 2.800l3.300 3.300 3.300-3.300" stroke="#555" stroke-width="1.9" fill="none"/></svg>
<span class="t" style="left:263.5px;transform-origin:0 0;top:89.46px;font-size:12.7px;line-height:12.7px;color:#444;font-weight:normal;transform:scaleX(1.1233);">Blueberries</span>
<div class="r" style="left:62px;top:138px;width:555px;height:531px;background:#fff;"></div>
<div class="r" style="left:36px;top:118px;width:582px;height:20px;background:#e6e6e6;"></div>
<div class="r" style="left:36px;top:137px;width:582px;height:1px;background:#9e9e9e;"></div>
<svg class="r" style="left:36px;top:118px;" width="26" height="20" viewBox="0 0 26 20"><path d="M22 4.5v11.5h-11.5z" fill="#b9b9b9"/></svg>
<div class="r" style="left:192px;top:118px;width:1px;height:19px;background:#a8a8a8;"></div>
<div class="r" style="left:61px;top:118px;width:1px;height:20px;background:#c3c3c3;"></div>
<span class="t" style="left:127.5px;transform-origin:50% 0;top:121.21px;font-size:13px;line-height:13px;color:#222;font-weight:normal;transform:translateX(-50%);">A</span>
<div class="r" style="left:244px;top:118px;width:1px;height:19px;background:#a8a8a8;"></div>
<div class="r" style="left:61px;top:118px;width:1px;height:20px;background:#c3c3c3;"></div>
<span class="t" style="left:219px;transform-origin:50% 0;top:121.21px;font-size:13px;line-height:13px;color:#222;font-weight:normal;transform:translateX(-50%);">B</span>
<div class="r" style="left:288px;top:118px;width:1px;height:19px;background:#a8a8a8;"></div>
<div class="r" style="left:61px;top:118px;width:1px;height:20px;background:#c3c3c3;"></div>
<span class="t" style="left:267px;transform-origin:50% 0;top:121.21px;font-size:13px;line-height:13px;color:#222;font-weight:normal;transform:translateX(-50%);">C</span>
<div class="r" style="left:377px;top:118px;width:1px;height:19px;background:#a8a8a8;"></div>
<div class="r" style="left:61px;top:118px;width:1px;height:20px;background:#c3c3c3;"></div>
<span class="t" style="left:333.5px;transform-origin:50% 0;top:121.21px;font-size:13px;line-height:13px;color:#222;font-weight:normal;transform:translateX(-50%);">D</span>
<div class="r" style="left:441px;top:118px;width:1px;height:19px;background:#a8a8a8;"></div>
<div class="r" style="left:61px;top:118px;width:1px;height:20px;background:#c3c3c3;"></div>
<span class="t" style="left:410px;transform-origin:50% 0;top:121.21px;font-size:13px;line-height:13px;color:#222;font-weight:normal;transform:translateX(-50%);">E</span>
<div class="r" style="left:505px;top:118px;width:1px;height:19px;background:#a8a8a8;"></div>
<div class="r" style="left:61px;top:118px;width:1px;height:20px;background:#c3c3c3;"></div>
<span class="t" style="left:474px;transform-origin:50% 0;top:121.21px;font-size:13px;line-height:13px;color:#222;font-weight:normal;transform:translateX(-50%);">F</span>
<div class="r" style="left:569px;top:118px;width:1px;height:19px;background:#a8a8a8;"></div>
<div class="r" style="left:61px;top:118px;width:1px;height:20px;background:#c3c3c3;"></div>
<span class="t" style="left:538px;transform-origin:50% 0;top:121.21px;font-size:13px;line-height:13px;color:#222;font-weight:normal;transform:translateX(-50%);">G</span>
<div class="r" style="left:61px;top:118px;width:1px;height:20px;background:#c3c3c3;"></div>
<div class="r" style="left:570px;top:118px;width:47px;height:20px;overflow:hidden"><span class="t" style="left:32px;transform-origin:50% 0;top:3.21px;font-size:13px;line-height:13px;color:#222;font-weight:normal;transform:translateX(-50%);">H</span></div>
<div class="r" style="left:36px;top:138px;width:26px;height:531px;background:#e6e6e6;"></div>
<div class="r" style="left:61px;top:138px;width:1px;height:531px;background:#ababab;"></div>
<div class="r" style="left:62px;top:166px;width:555px;height:1px;background:#d4d4d4;"></div>
<div class="r" style="left:36px;top:166px;width:25px;height:1px;background:#c3c3c3;"></div>
<div class="r" style="left:62px;top:195px;width:555px;height:1px;background:#d4d4d4;"></div>
<div class="r" style="left:36px;top:195px;width:25px;height:1px;background:#c3c3c3;"></div>
<div class="r" style="left:62px;top:224px;width:555px;height:1px;background:#d4d4d4;"></div>
<div class="r" style="left:36px;top:224px;width:25px;height:1px;background:#c3c3c3;"></div>
<div class="r" style="left:62px;top:253px;width:555px;height:1px;background:#d4d4d4;"></div>
<div class="r" style="left:36px;top:253px;width:25px;height:1px;background:#c3c3c3;"></div>
<div class="r" style="left:62px;top:282px;width:555px;height:1px;background:#d4d4d4;"></div>
<div class="r" style="left:36px;top:282px;width:25px;height:1px;background:#c3c3c3;"></div>
<div class="r" style="left:62px;top:311px;width:555px;height:1px;background:#d4d4d4;"></div>
<div class="r" style="left:36px;top:311px;width:25px;height:1px;background:#c3c3c3;"></div>
<div class="r" style="left:62px;top:340px;width:555px;height:1px;background:#d4d4d4;"></div>
<div class="r" style="left:36px;top:340px;width:25px;height:1px;background:#c3c3c3;"></div>
<div class="r" style="left:62px;top:369px;width:555px;height:1px;background:#d4d4d4;"></div>
<div class="r" style="left:36px;top:369px;width:25px;height:1px;background:#c3c3c3;"></div>
<div class="r" style="left:62px;top:398px;width:555px;height:1px;background:#d4d4d4;"></div>
<div class="r" style="left:36px;top:398px;width:25px;height:1px;background:#c3c3c3;"></div>
<div class="r" style="left:62px;top:427px;width:555px;height:1px;background:#d4d4d4;"></div>
<div class="r" style="left:36px;top:427px;width:25px;height:1px;background:#c3c3c3;"></div>
<div class="r" style="left:62px;top:456px;width:555px;height:1px;background:#d4d4d4;"></div>
<div class="r" style="left:36px;top:456px;width:25px;height:1px;background:#c3c3c3;"></div>
<div class="r" style="left:62px;top:485px;width:555px;height:1px;background:#d4d4d4;"></div>
<div class="r" style="left:36px;top:485px;width:25px;height:1px;background:#c3c3c3;"></div>
<div class="r" style="left:62px;top:514px;width:555px;height:1px;background:#d4d4d4;"></div>
<div class="r" style="left:36px;top:514px;width:25px;height:1px;background:#c3c3c3;"></div>
<div class="r" style="left:62px;top:543px;width:555px;height:1px;background:#d4d4d4;"></div>
<div class="r" style="left:36px;top:543px;width:25px;height:1px;background:#c3c3c3;"></div>
<div class="r" style="left:62px;top:572px;width:555px;height:1px;background:#d4d4d4;"></div>
<div class="r" style="left:36px;top:572px;width:25px;height:1px;background:#c3c3c3;"></div>
<div class="r" style="left:62px;top:601px;width:555px;height:1px;background:#d4d4d4;"></div>
<div class="r" style="left:36px;top:601px;width:25px;height:1px;background:#c3c3c3;"></div>
<div class="r" style="left:62px;top:630px;width:555px;height:1px;background:#d4d4d4;"></div>
<div class="r" style="left:36px;top:630px;width:25px;height:1px;background:#c3c3c3;"></div>
<div class="r" style="left:62px;top:659px;width:555px;height:1px;background:#d4d4d4;"></div>
<div class="r" style="left:36px;top:659px;width:25px;height:1px;background:#c3c3c3;"></div>
<div class="r" style="left:192px;top:138px;width:1px;height:531px;background:#d4d4d4;"></div>
<div class="r" style="left:244px;top:138px;width:1px;height:531px;background:#d4d4d4;"></div>
<div class="r" style="left:288px;top:138px;width:1px;height:531px;background:#d4d4d4;"></div>
<div class="r" style="left:377px;top:138px;width:1px;height:531px;background:#d4d4d4;"></div>
<div class="r" style="left:441px;top:138px;width:1px;height:531px;background:#d4d4d4;"></div>
<div class="r" style="left:505px;top:138px;width:1px;height:531px;background:#d4d4d4;"></div>
<div class="r" style="left:569px;top:138px;width:1px;height:531px;background:#d4d4d4;"></div>
<div class="r" style="left:617px;top:137px;width:1px;height:532px;background:#c6c6c6;"></div>
<div class="r" style="left:36px;top:669px;width:582px;height:1px;background:#ababab;"></div>
<div class="r" style="left:62px;top:137px;width:316px;height:30px;background:#f07d66;"></div>
<div class="r" style="left:244px;top:224px;width:134px;height:30px;background:#8cc63f;"></div>
<div class="r" style="left:192px;top:311px;width:186px;height:30px;background:#8cc63f;"></div>
<div class="r" style="left:62px;top:369px;width:316px;height:30px;background:#f07d66;background:linear-gradient(90deg,#f39683 0,#f49e8d 12%,#f39380 40%,#f1846f 60%,#f07b64 78%,#ef7861 100%);"></div>
<div class="r" style="left:192px;top:427px;width:186px;height:30px;background:#f07d66;background:linear-gradient(90deg,#f28a76 0,#f1826d 22%,#f07b64 45%,#f07b64 100%);"></div>
<div class="r" style="left:62px;top:427px;width:131px;height:30px;background:#f07d66;background:linear-gradient(90deg,#f39885 0,#f4a190 35%,#f3917e 100%);"></div>
<span class="t" style="left:49px;transform-origin:50% 0;top:151.21px;font-size:13px;line-height:13px;color:#444;font-weight:normal;transform:translateX(-50%);">2</span>
<span class="t" style="left:49px;transform-origin:50% 0;top:180.21px;font-size:13px;line-height:13px;color:#444;font-weight:normal;transform:translateX(-50%);">3</span>
<span class="t" style="left:49px;transform-origin:50% 0;top:209.21px;font-size:13px;line-height:13px;color:#444;font-weight:normal;transform:translateX(-50%);">4</span>
<span class="t" style="left:49px;transform-origin:50% 0;top:238.21px;font-size:13px;line-height:13px;color:#444;font-weight:normal;transform:translateX(-50%);">5</span>
<span class="t" style="left:49px;transform-origin:50% 0;top:267.21px;font-size:13px;line-height:13px;color:#444;font-weight:normal;transform:translateX(-50%);">6</span>
<span class="t" style="left:49px;transform-origin:50% 0;top:296.21px;font-size:13px;line-height:13px;color:#444;font-weight:normal;transform:translateX(-50%);">7</span>
<span class="t" style="left:49px;transform-origin:50% 0;top:325.21px;font-size:13px;line-height:13px;color:#444;font-weight:normal;transform:translateX(-50%);">8</span>
<span class="t" style="left:49px;transform-origin:50% 0;top:354.21px;font-size:13px;line-height:13px;color:#444;font-weight:normal;transform:translateX(-50%);">9</span>
<span class="t" style="left:49px;transform-origin:50% 0;top:383.21px;font-size:13px;line-height:13px;color:#444;font-weight:normal;transform:translateX(-50%);">10</span>
<span class="t" style="left:49px;transform-origin:50% 0;top:412.21px;font-size:13px;line-height:13px;color:#444;font-weight:normal;transform:translateX(-50%);">11</span>
<span class="t" style="left:49px;transform-origin:50% 0;top:441.21px;font-size:13px;line-height:13px;color:#444;font-weight:normal;transform:translateX(-50%);">12</span>
<span class="t" style="left:49px;transform-origin:50% 0;top:470.21px;font-size:13px;line-height:13px;color:#444;font-weight:normal;transform:translateX(-50%);">13</span>
<span class="t" style="left:49px;transform-origin:50% 0;top:499.21px;font-size:13px;line-height:13px;color:#444;font-weight:normal;transform:translateX(-50%);">14</span>
<span class="t" style="left:49px;transform-origin:50% 0;top:528.21px;font-size:13px;line-height:13px;color:#444;font-weight:normal;transform:translateX(-50%);">15</span>
<span class="t" style="left:49px;transform-origin:50% 0;top:557.21px;font-size:13px;line-height:13px;color:#444;font-weight:normal;transform:translateX(-50%);">16</span>
<span class="t" style="left:49px;transform-origin:50% 0;top:586.21px;font-size:13px;line-height:13px;color:#444;font-weight:normal;transform:translateX(-50%);">17</span>
<span class="t" style="left:49px;transform-origin:50% 0;top:615.21px;font-size:13px;line-height:13px;color:#444;font-weight:normal;transform:translateX(-50%);">18</span>
<span class="t" style="left:49px;transform-origin:50% 0;top:644.21px;font-size:13px;line-height:13px;color:#444;font-weight:normal;transform:translateX(-50%);">19</span>
<span class="t" style="left:73px;transform-origin:0 0;top:146.38px;font-size:14px;line-height:14px;color:#4a1f1a;font-weight:normal;transform:scaleX(1.0277);">Apples</span>
<span class="t" style="left:204.3px;transform-origin:0 0;top:148.16px;font-size:11.5px;line-height:11.5px;color:#c96b5b;font-weight:normal;transform:scaleX(0.9453);">Bag</span>
<span class="t" style="right:363px;transform-origin:100% 0;top:146.38px;font-size:14px;line-height:14px;color:#3a0c0c;font-weight:normal;transform:scaleX(1.0128);">1.58</span>
<span class="t" style="right:274px;transform-origin:100% 0;top:146.38px;font-size:14px;line-height:14px;color:#3a0c0c;font-weight:normal;transform:scaleX(1.0128);">1.82</span>
<span class="t" style="left:73px;transform-origin:0 0;top:175.38px;font-size:14px;line-height:14px;color:#484848;font-weight:normal;transform:scaleX(1.0321);">Blueberries</span>
<span class="t" style="left:204.3px;transform-origin:0 0;top:177.16px;font-size:11.5px;line-height:11.5px;color:#727272;font-weight:normal;transform:scaleX(1.0563);">Tray</span>
<span class="t" style="right:363px;transform-origin:100% 0;top:175.38px;font-size:14px;line-height:14px;color:#111;font-weight:normal;transform:scaleX(1.0128);">2.04</span>
<span class="t" style="right:274px;transform-origin:100% 0;top:175.38px;font-size:14px;line-height:14px;color:#111;font-weight:normal;transform:scaleX(1.0128);">2.35</span>
<span class="t" style="left:73px;transform-origin:0 0;top:204.38px;font-size:14px;line-height:14px;color:#484848;font-weight:normal;transform:scaleX(1.0200);">Cranberries</span>
<span class="t" style="left:204.3px;transform-origin:0 0;top:206.16px;font-size:11.5px;line-height:11.5px;color:#727272;font-weight:normal;transform:scaleX(1.0563);">Tray</span>
<span class="t" style="right:363px;transform-origin:100% 0;top:204.38px;font-size:14px;line-height:14px;color:#111;font-weight:normal;transform:scaleX(1.0128);">1.76</span>
<span class="t" style="right:274px;transform-origin:100% 0;top:204.38px;font-size:14px;line-height:14px;color:#111;font-weight:normal;transform:scaleX(1.0128);">2.02</span>
<span class="t" style="left:73px;transform-origin:0 0;top:233.38px;font-size:14px;line-height:14px;color:#484848;font-weight:normal;transform:scaleX(1.0556);">Grapefruits</span>
<span class="t" style="left:204.3px;transform-origin:0 0;top:235.16px;font-size:11.5px;line-height:11.5px;color:#727272;font-weight:normal;transform:scaleX(0.9453);">Bag</span>
<span class="t" style="right:363px;transform-origin:100% 0;top:233.38px;font-size:14px;line-height:14px;color:#111;font-weight:normal;transform:scaleX(1.0128);">2.17</span>
<span class="t" style="right:274px;transform-origin:100% 0;top:233.38px;font-size:14px;line-height:14px;color:#111;font-weight:normal;transform:scaleX(1.0128);">2.50</span>
<span class="t" style="left:73px;transform-origin:0 0;top:262.38px;font-size:14px;line-height:14px;color:#484848;font-weight:normal;transform:scaleX(0.9884);">Key Limes</span>
<span class="t" style="left:204.3px;transform-origin:0 0;top:264.15px;font-size:11.5px;line-height:11.5px;color:#727272;font-weight:normal;transform:scaleX(0.9453);">Bag</span>
<span class="t" style="right:363px;transform-origin:100% 0;top:262.38px;font-size:14px;line-height:14px;color:#111;font-weight:normal;transform:scaleX(1.0128);">2.97</span>
<span class="t" style="right:274px;transform-origin:100% 0;top:262.38px;font-size:14px;line-height:14px;color:#111;font-weight:normal;transform:scaleX(1.0128);">3.42</span>
<span class="t" style="left:73px;transform-origin:0 0;top:291.38px;font-size:14px;line-height:14px;color:#484848;font-weight:normal;transform:scaleX(1.0059);">Mango Spears</span>
<span class="t" style="left:204.3px;transform-origin:0 0;top:293.15px;font-size:11.5px;line-height:11.5px;color:#727272;font-weight:normal;transform:scaleX(1.0563);">Tray</span>
<span class="t" style="right:363px;transform-origin:100% 0;top:291.38px;font-size:14px;line-height:14px;color:#111;font-weight:normal;transform:scaleX(1.0128);">2.63</span>
<span class="t" style="right:274px;transform-origin:100% 0;top:291.38px;font-size:14px;line-height:14px;color:#111;font-weight:normal;transform:scaleX(1.0128);">3.03</span>
<span class="t" style="left:73px;transform-origin:0 0;top:320.38px;font-size:14px;line-height:14px;color:#484848;font-weight:normal;transform:scaleX(1.0649);">Mulberries</span>
<span class="t" style="left:204.3px;transform-origin:0 0;top:322.15px;font-size:11.5px;line-height:11.5px;color:#6f8f45;font-weight:normal;transform:scaleX(1.1096);">Film</span>
<span class="t" style="right:363px;transform-origin:100% 0;top:320.38px;font-size:14px;line-height:14px;color:#111;font-weight:normal;transform:scaleX(1.0128);">1.84</span>
<span class="t" style="right:274px;transform-origin:100% 0;top:320.38px;font-size:14px;line-height:14px;color:#111;font-weight:normal;transform:scaleX(1.0128);">2.17</span>
<span class="t" style="left:73px;transform-origin:0 0;top:349.38px;font-size:14px;line-height:14px;color:#484848;font-weight:normal;transform:scaleX(1.0167);">Oranges</span>
<span class="t" style="left:204.3px;transform-origin:0 0;top:351.15px;font-size:11.5px;line-height:11.5px;color:#727272;font-weight:normal;transform:scaleX(0.9453);">Bag</span>
<span class="t" style="right:363px;transform-origin:100% 0;top:349.38px;font-size:14px;line-height:14px;color:#111;font-weight:normal;transform:scaleX(1.0128);">1.26</span>
<span class="t" style="right:274px;transform-origin:100% 0;top:349.38px;font-size:14px;line-height:14px;color:#111;font-weight:normal;transform:scaleX(1.0128);">1.44</span>
<span class="t" style="left:73px;transform-origin:0 0;top:378.38px;font-size:14px;line-height:14px;color:#7d4a42;font-weight:normal;transform:scaleX(0.9835);">Peach Slices</span>
<span class="t" style="left:204.3px;transform-origin:0 0;top:380.15px;font-size:11.5px;line-height:11.5px;color:#c77b6d;font-weight:normal;transform:scaleX(1.0563);">Tray</span>
<span class="t" style="right:363px;transform-origin:100% 0;top:378.38px;font-size:14px;line-height:14px;color:#3a0c0c;font-weight:normal;transform:scaleX(1.0128);">2.31</span>
<span class="t" style="right:274px;transform-origin:100% 0;top:378.38px;font-size:14px;line-height:14px;color:#3a0c0c;font-weight:normal;transform:scaleX(1.0128);">2.66</span>
<span class="t" style="left:73px;transform-origin:0 0;top:407.38px;font-size:14px;line-height:14px;color:#484848;font-weight:normal;transform:scaleX(0.9733);">Pears</span>
<span class="t" style="left:204.3px;transform-origin:0 0;top:409.15px;font-size:11.5px;line-height:11.5px;color:#727272;font-weight:normal;transform:scaleX(1.1096);">Film</span>
<span class="t" style="right:363px;transform-origin:100% 0;top:407.38px;font-size:14px;line-height:14px;color:#111;font-weight:normal;transform:scaleX(1.0128);">2.43</span>
<span class="t" style="right:274px;transform-origin:100% 0;top:407.38px;font-size:14px;line-height:14px;color:#111;font-weight:normal;transform:scaleX(1.0128);">2.79</span>
<span class="t" style="left:73px;transform-origin:0 0;top:436.38px;font-size:14px;line-height:14px;color:#7d4a42;font-weight:normal;transform:scaleX(0.9829);">Prunes</span>
<span class="t" style="left:204.3px;transform-origin:0 0;top:438.15px;font-size:11.5px;line-height:11.5px;color:#c77b6d;font-weight:normal;transform:scaleX(1.1096);">Film</span>
<span class="t" style="right:363px;transform-origin:100% 0;top:436.38px;font-size:14px;line-height:14px;color:#3a0c0c;font-weight:normal;transform:scaleX(1.0128);">1.63</span>
<span class="t" style="right:274px;transform-origin:100% 0;top:436.38px;font-size:14px;line-height:14px;color:#3a0c0c;font-weight:normal;transform:scaleX(1.0128);">1.88</span>
<div class="r" style="left:618px;top:118px;width:22px;height:552px;background:#e6e6e6;"></div>
<div class="r" style="left:621px;top:135px;width:15px;height:520px;background:#dcdcdc;"></div>
<div class="r" style="left:621px;top:120px;width:15px;height:15px;background:#fff;box-sizing:border-box;border:1px solid #ababab;"></div>
<svg class="r" style="left:621px;top:120px;" width="15" height="15" viewBox="0 0 15 15"><path d="M4 9.5h7L7.5 5.500z" fill="#777"/></svg>
<div class="r" style="left:621px;top:162px;width:15px;height:466px;background:#fff;box-sizing:border-box;border:1px solid #ababab;"></div>
<div class="r" style="left:621px;top:655px;width:15px;height:15px;background:#fff;box-sizing:border-box;border:1px solid #ababab;"></div>
<svg class="r" style="left:621px;top:655px;" width="15" height="15" viewBox="0 0 15 15"><path d="M4 5.5h7L7.5 9.5z" fill="#777"/></svg>
<div class="r" style="left:36px;top:670px;width:604px;height:27px;background:#e6e6e6;"></div>
<svg class="r" style="left:61px;top:677px;" width="8" height="10" viewBox="0 0 8 10"><path d="M6 1.5v7L1.5 5z" fill="#c9c9c9"/></svg>
<svg class="r" style="left:89px;top:677px;" width="8" height="10" viewBox="0 0 8 10"><path d="M2 1.5v7L6.5 5z" fill="#c9c9c9"/></svg>
<div class="r" style="left:136px;top:673px;width:1px;height:20px;background:#ababab;"></div>
<span class="t" style="left:162px;transform-origin:50% 0;top:675.38px;font-size:14px;line-height:14px;color:#444;font-weight:normal;transform:translateX(-50%) scaleX(0.8859);">2017</span>
<div class="r" style="left:189px;top:670px;width:51px;height:24px;background:#fff;"></div>
<div class="r" style="left:189px;top:692px;width:51px;height:2px;background:#217346;"></div>
<div class="r" style="left:189px;top:669px;width:51px;height:1px;background:#fff;"></div>
<div class="r" style="left:188px;top:669px;width:1px;height:24px;background:#c2c2c2;"></div>
<div class="r" style="left:240px;top:669px;width:1px;height:24px;background:#c2c2c2;"></div>
<span class="t" style="left:214.5px;transform-origin:50% 0;top:675.38px;font-size:14px;line-height:14px;color:#2a6e4a;font-weight:bold;transform:translateX(-50%) scaleX(0.9019);">2018</span>
<svg class="r" style="left:271px;top:673px;" width="20" height="20" viewBox="0 0 20 20"><circle cx="10" cy="10" r="7.5" fill="none" stroke="#6a6a6a" stroke-width="1.3"/><path d="M6 10h8M10 6v8" stroke="#5f5f5f" stroke-width="1.7"/></svg>
<div class="r" style="left:309px;top:677.5px;width:2px;height:2px;background:#bdbdbd;"></div>
<div class="r" style="left:309px;top:681.8px;width:2px;height:2px;background:#bdbdbd;"></div>
<div class="r" style="left:309px;top:686px;width:2px;height:2px;background:#bdbdbd;"></div>
<div class="r" style="left:326px;top:676px;width:294px;height:15px;background:#dcdcdc;"></div>
<div class="r" style="left:326px;top:676px;width:15px;height:15px;background:#fff;box-sizing:border-box;border:1px solid #ababab;"></div>
<svg class="r" style="left:326px;top:676px;" width="15" height="15" viewBox="0 0 15 15"><path d="M9.5 4v7L5.5 7.5z" fill="#555"/></svg>
<div class="r" style="left:341px;top:676px;width:178px;height:15px;background:#fff;box-sizing:border-box;border:1px solid #ababab;"></div>
<div class="r" style="left:605px;top:676px;width:15px;height:15px;background:#fff;box-sizing:border-box;border:1px solid #ababab;"></div>
<svg class="r" style="left:605px;top:676px;" width="15" height="15" viewBox="0 0 15 15"><path d="M5.5 4v7l4-3.5z" fill="#555"/></svg>
<div class="r" style="left:0px;top:697px;width:640px;height:23px;background:#f3f3f3;"></div>
<span class="t" style="left:8.5px;transform-origin:0 0;top:702.04px;font-size:12px;line-height:12px;color:#333;font-weight:normal;transform:scaleX(0.8822);">Ready</span>
<svg class="r" style="left:59px;top:701px;" width="14" height="14" viewBox="0 0 14 14"><circle cx="3" cy="3" r="2.6" fill="#555"/><path d="M6.5 1.5h6v11h-11v-6" fill="none" stroke="#555" stroke-width="1"/><path d="M6.5 3.5h6" stroke="#555" stroke-width="1.6"/><path d="M3.5 6.5h8M3.5 8.5h8M3.5 10.5h8" stroke="#555" stroke-width="1" stroke-dasharray="1.5 1"/></svg>
<div class="r" style="left:0px;top:697px;width:640px;height:1px;background:#dadada;"></div>
<div class="r" style="left:342px;top:698px;width:38px;height:20px;background:#c6c6c6;"></div>
<svg class="r" style="left:354px;top:701px;" width="13" height="13" viewBox="0 0 13 13"><path shape-rendering="crispEdges" d="M0.5 0.5h12v12h-12zM0.5 4.500h12M0.5 8.500h12M4.5 0.500v12M8.5 0.500v12" fill="none" stroke="#6a6a6a" stroke-width="1"/></svg>
<svg class="r" style="left:392px;top:701px;" width="14" height="13" viewBox="0 0 14 13"><path shape-rendering="crispEdges" d="M0.5 0.5h13v12h-13zM3.5 2.500h7v8h-7z" fill="none" stroke="#6a6a6a" stroke-width="1"/><path shape-rendering="crispEdges" d="M5 4.500h4M5 6.500h4M5 8.500h4" fill="none" stroke="#6a6a6a" stroke-width="1"/></svg>
<svg class="r" style="left:430px;top:701px;" width="14" height="13" viewBox="0 0 14 13"><path shape-rendering="crispEdges" d="M0.5 0.5h13v12h-13zM0.5 7.500h8v-7M4.5 0.500v7" fill="none" stroke="#6a6a6a" stroke-width="1"/></svg>
<div class="r" style="left:461px;top:707px;width:6px;height:2px;background:#5a5a5a;"></div>
<div class="r" style="left:471px;top:708px;width:100px;height:1px;background:#a6a6a6;"></div>
<div class="r" style="left:519px;top:702px;width:5px;height:12px;background:#6e6e6e;"></div>
<div class="r" style="left:574px;top:707px;width:8px;height:2px;background:#5a5a5a;"></div>
<div class="r" style="left:577px;top:704px;width:2px;height:8px;background:#5a5a5a;"></div>
<span class="t" style="left:593.5px;transform-origin:0 0;top:702.04px;font-size:12px;line-height:12px;color:#333;font-weight:normal;transform:scaleX(0.8501);">100%</span>
<div class="r" style="left:1px;top:119px;width:35px;height:578px;background:#c8c8c8;background:linear-gradient(180deg,#bbbbbb 0,#d7d7d7 48%,#c0c0c0 80%,#a9a9a9 100%);"></div>
<div class="r" style="left:1px;top:119px;width:5px;height:578px;background:transparent;background:linear-gradient(90deg,rgba(0,0,0,.16),rgba(0,0,0,0));"></div>
<svg class="r" style="left:1px;top:119px;" width="34" height="578" viewBox="0 0 34 578"><path d="M17 24V7.5M9 15.5l8-8 8 8" fill="none" stroke="rgba(255,255,255,.55)" stroke-width="2"/><path d="M17 38v16.5M9 46.5l8 8 8-8" fill="none" stroke="rgba(255,255,255,.5)" stroke-width="2.3"/><path d="M5.5 64h24v1h-24z" fill="rgba(255,255,255,.45)"/><path d="M21.5 74.5l-9 8.5 9 8.5" fill="none" stroke="rgba(255,255,255,.55)" stroke-width="2"/><path d="M21.5 104.5l-9 9 9 8.5" fill="none" stroke="rgba(255,255,255,.55)" stroke-width="2"/><path d="M18.4 142.5h7.8v4.4h-7.8z" fill="rgba(255,255,255,.42)"/><path d="M15 148.100h11.2v4.100h-11.2z" fill="rgba(255,255,255,.42)"/><path d="M8 135l13 13M21 135l-13 13" fill="none" stroke="rgba(255,255,255,.5)" stroke-width="2"/><path d="M18.4 173h7.8v4h-7.8z" fill="rgba(255,255,255,.42)"/><path d="M15 178h11.2v4h-11.2z" fill="rgba(255,255,255,.42)"/><path d="M20.2 164.200l3.500 4.400-8.500 6.400-3.200-3.500z" fill="rgba(255,255,255,.5)"/><path d="M10.8 173l4.200 3.500-2 2.500-5-3.800z" fill="rgba(255,255,255,.5)"/><path d="M5.5 191h24v1h-24z" fill="rgba(255,255,255,.45)"/><path d="M9 203h2.300v4.200h5.200v2.300h-7.500z" fill="rgba(255,255,255,.5)"/><path d="M12.5 207.500C14 204.500 17 203 19.500 203.500C23 204.500 25 208 23.500 211.500C22.5 214 20 216.500 17.500 217.500" fill="none" stroke="rgba(255,255,255,.5)" stroke-width="2"/><path d="M25 233h-2.300v4.200h-5.200v2.300h7.500z" fill="rgba(255,255,255,.5)"/><path d="M21.5 237.500C20 234.500 17 233 14.500 233.500C11 234.500 9 238 10.500 241.500C11.5 244 14 246.500 16.500 247.500" fill="none" stroke="rgba(255,255,255,.5)" stroke-width="2"/><path d="M11 518.500l13 13M24 518.500l-13 13" fill="none" stroke="rgba(255,255,255,.5)" stroke-width="2"/><path d="M5.5 543h24v1h-24z" fill="rgba(255,255,255,.45)"/><g transform="translate(17.400 561.800)" opacity=".42"><g fill="#fff"><rect x="-2.100" y="-8.700" width="4.200" height="4.500" transform="rotate(0)"/><rect x="-2.100" y="-8.700" width="4.200" height="4.500" transform="rotate(45)"/><rect x="-2.100" y="-8.700" width="4.200" height="4.500" transform="rotate(90)"/><rect x="-2.100" y="-8.700" width="4.200" height="4.500" transform="rotate(135)"/><rect x="-2.100" y="-8.700" width="4.200" height="4.500" transform="rotate(180)"/><rect x="-2.100" y="-8.700" width="4.200" height="4.500" transform="rotate(225)"/><rect x="-2.100" y="-8.700" width="4.200" height="4.500" transform="rotate(270)"/><rect x="-2.100" y="-8.700" width="4.200" height="4.500" transform="rotate(315)"/></g><circle r="4.900" fill="none" stroke="#fff" stroke-width="3.400"/></g></svg>
<div class="r" style="left:0px;top:0px;width:1px;height:72px;background:#1f6a41;"></div>
<div class="r" style="left:0px;top:72px;width:1px;height:47px;background:#5d7567;"></div>
<div class="r" style="left:0px;top:119px;width:1px;height:578px;background:#8fa096;background:linear-gradient(180deg,#6d8a78 0,#a3b3a8 48%,#7d9485 80%,#6b8574 100%);"></div>
<div class="r" style="left:0px;top:697px;width:1px;height:23px;background:#5d7567;"></div>
<div class="r" style="left:1px;top:72px;width:4px;height:47px;background:transparent;background:linear-gradient(90deg,rgba(0,0,0,.16),rgba(0,0,0,0));"></div>
<div class="r" style="left:1px;top:697px;width:4px;height:23px;background:transparent;background:linear-gradient(90deg,rgba(0,0,0,.16),rgba(0,0,0,0));"></div>
<div class="r" style="left:639px;top:72px;width:1px;height:648px;background:#b5b5b5;"></div>
<div class="r" style="left:0px;top:0px;width:640px;height:1px;background:#6f9480;"></div>
<div class="r" style="left:639px;top:0px;width:1px;height:72px;background:#4d7f64;"></div>
<div class="r" style="left:0px;top:719px;width:640px;height:1px;background:#858585;"></div>
</div>
</body></html>
